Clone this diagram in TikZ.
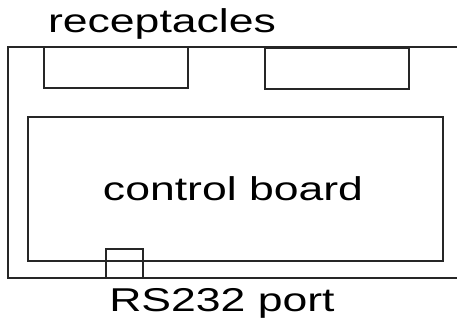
\documentclass[tikz,border=0pt]{standalone}
\usepackage{fontspec}
\setmainfont{Liberation Sans}
\usepackage{graphicx}
\usetikzlibrary{positioning,calc}

\tikzset{
  part/.style={draw=black!85, line width=1.3pt},
  lbl/.style={inner sep=0pt, anchor=base, font=\fontsize{33}{38}\selectfont}
}
\newcommand{\widetext}[1]{\scalebox{1.35}[1]{#1}}

\begin{document}
\begin{tikzpicture}[x=1pt, y=-1pt]
        \useasboundingbox (0,0) rectangle (457,322);

        % Housing (open to the right)
        \draw[part] (457,47) -- (8,47) -- (8,278) -- (457,278);

        % Receptacles
        \draw[part] (44,47) rectangle (188,88);
        \draw[part] (265,48) rectangle (409,89);

        % Control board
        \draw[part] (28,117) rectangle (443,261);

        % RS232 port
        \draw[part] (106,249) rectangle (143,278);

        % Labels
        \node[lbl] (rec) at (162,32) {\widetext{receptacles}};
        \node[lbl] (ctl) at (233,200) {\widetext{control board}};
        \node[lbl] (rs) at (222,311) {\widetext{RS232 port}};

    \end{tikzpicture}
\end{document}
